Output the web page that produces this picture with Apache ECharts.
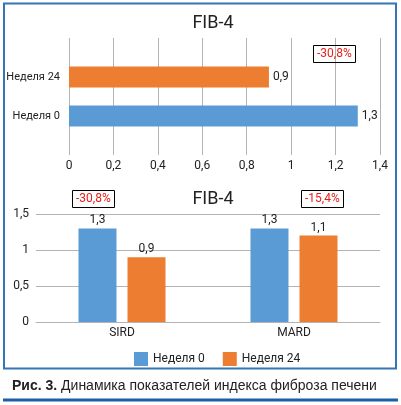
<!DOCTYPE html>
<html>
<head>
<meta charset="utf-8">
<script src="https://cdn.jsdelivr.net/npm/echarts@6/dist/echarts.min.js"></script>
<style>
  html, body { margin: 0; padding: 0; background: #fff; }
  #chart { width: 401px; height: 405px; }
</style>
</head>
<body>
<div id="chart"></div>
<script>
// верхний график (горизонтальный)
let topCats = ['', 'Неделя 0', 'Неделя 24', ''];
let topValues = [null, 1.3, 0.9, null];
let topLabels = ['', '1,3', '0,9', ''];
let topChange = '-30,8%';

// нижний график
let groups = ['SIRD', 'MARD'];
let week0 = [1.3, 1.3];
let week24 = [0.9, 1.2];
let week0Labels = ['1,3', '1,3'];
let week24Labels = ['0,9', '1,1'];
let groupChange = ['-30,8%', '-15,4%'];

let caption = 'Динамика показателей индекса фиброза печени';

let narrow = 'Roboto, "Liberation Sans", sans-serif';
let blue = '#5b9bd5';
let orange = '#ed7d31';
let gridColor = '#b4b4b4';

function comma(v) {
    return String(v).replace('.', ',');
}

let myChart = echarts.init(document.getElementById('chart'));

let boxStyle = {
    borderColor: '#000',
    borderWidth: 1,
    padding: [3, 4],
    textStyle: {color: '#e8201a', fontSize: 12, fontWeight: 'normal', fontFamily: narrow}
};

let option = {
    animation: false,
    title: [
        Object.assign({text: topChange, left: 313, top: 45}, boxStyle),
        Object.assign({text: groupChange[0], left: 72, top: 190}, boxStyle),
        Object.assign({text: groupChange[1], left: 301, top: 190}, boxStyle)
    ],
    graphic: [
        {
            type: 'rect', silent: true,
            shape: {x: 4, y: 3.5, width: 392, height: 365},
            style: {fill: 'none', stroke: '#3574b5', lineWidth: 2}
        },
        {
            type: 'rect', silent: true,
            shape: {x: 3, y: 398.5, width: 395, height: 3},
            style: {fill: '#1f5da6'}
        },
        {
            type: 'text', x: 213, y: 23,
            style: {text: 'FIB-4', font: '18px ' + narrow, fill: '#222', textAlign: 'center', textVerticalAlign: 'middle'}
        },
        {
            type: 'text', x: 213, y: 199,
            style: {text: 'FIB-4', font: '18px ' + narrow, fill: '#222', textAlign: 'center', textVerticalAlign: 'middle'}
        },
        {
            type: 'text', x: 12, y: 386,
            style: {
                text: '{b|Рис. 3.} ' + caption,
                rich: {b: {fontWeight: 'bold', fontSize: 14, fontFamily: 'Liberation Sans, Arial, sans-serif', fill: '#222'}},
                font: '14px "Liberation Sans", Arial, sans-serif',
                fill: '#222',
                textVerticalAlign: 'middle'
            }
        }
    ],
    legend: {
        data: ['Неделя 0', 'Неделя 24'],
        left: 129,
        top: 347,
        itemWidth: 14,
        itemHeight: 14,
        itemGap: 18,
        icon: 'rect',
        textStyle: {fontSize: 12, color: '#222', fontFamily: narrow}
    },
    grid: [
        {left: 69, right: 21, top: 38, bottom: 250},
        {left: 36, right: 21, top: 214, bottom: 83}
    ],
    xAxis: [
        {
            gridIndex: 0,
            type: 'value',
            min: 0, max: 1.4, interval: 0.2,
            axisLine: {show: false},
            axisTick: {show: false},
            splitLine: {lineStyle: {color: gridColor, width: 1}},
            axisLabel: {formatter: comma, color: '#222', fontSize: 12, margin: 5, fontFamily: narrow}
        },
        {
            gridIndex: 1,
            type: 'category',
            data: groups,
            axisLine: {lineStyle: {color: gridColor}},
            axisTick: {show: false},
            axisLabel: {color: '#222', fontSize: 12, margin: 5, fontFamily: narrow}
        }
    ],
    yAxis: [
        {
            gridIndex: 0,
            type: 'category',
            data: topCats,
            boundaryGap: false,
            axisLine: {show: false},
            axisTick: {show: false},
            splitLine: {show: false},
            axisLabel: {color: '#222', fontSize: 11, margin: 9, fontFamily: narrow}
        },
        {
            gridIndex: 1,
            type: 'value',
            min: 0, max: 1.5, interval: 0.5,
            axisLine: {show: false},
            axisTick: {show: false},
            splitLine: {lineStyle: {color: gridColor, width: 1}},
            axisLabel: {formatter: comma, color: '#222', fontSize: 12, margin: 7, fontFamily: narrow}
        }
    ],
    series: [
        {
            name: 'top',
            type: 'bar',
            xAxisIndex: 0,
            yAxisIndex: 0,
            barWidth: 21,
            data: topValues.map(function (v, i) {
                return {value: v, itemStyle: {color: i === 2 ? orange : blue}};
            }),
            label: {
                show: true,
                position: 'right',
                distance: 4,
                color: '#222',
                fontSize: 12,
                fontFamily: narrow,
                formatter: function (p) { return topLabels[p.dataIndex]; }
            }
        },
        {
            name: 'Неделя 0',
            type: 'bar',
            xAxisIndex: 1,
            yAxisIndex: 1,
            barWidth: 38,
            barGap: '29%',
            itemStyle: {color: blue},
            data: week0,
            label: {
                show: true, position: 'top', distance: 2,
                color: '#222', fontSize: 12, fontFamily: narrow,
                formatter: function (p) { return week0Labels[p.dataIndex]; }
            }
        },
        {
            name: 'Неделя 24',
            type: 'bar',
            xAxisIndex: 1,
            yAxisIndex: 1,
            barWidth: 38,
            barGap: '29%',
            itemStyle: {color: orange},
            data: week24,
            label: {
                show: true, position: 'top', distance: 2,
                color: '#222', fontSize: 12, fontFamily: narrow,
                formatter: function (p) { return week24Labels[p.dataIndex]; }
            }
        }
    ]
};

myChart.setOption(option);

window.addEventListener('resize', () => {
    myChart.resize();
});
</script>
</body>
</html>
